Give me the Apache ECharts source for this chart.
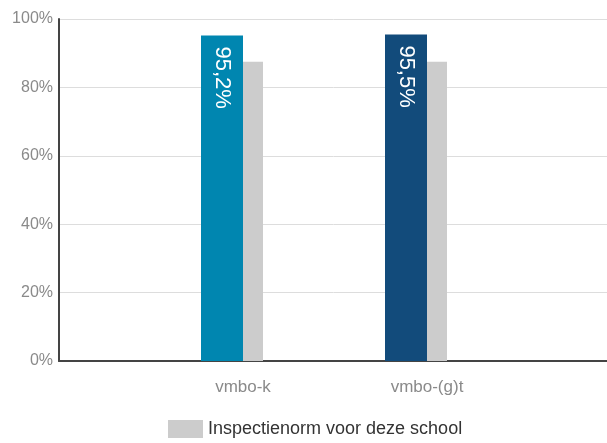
<!DOCTYPE html>
<html>
<head>
<meta charset="utf-8">
<script src="https://cdn.jsdelivr.net/npm/echarts@6/dist/echarts.min.js"></script>
<style>
  html, body { margin: 0; padding: 0; background: #fff; }
  #chart { width: 607px; height: 443px; }
</style>
</head>
<body>
<div id="chart"></div>
<script>
// empty slots at both ends keep the groups at the same spacing as the original
const categories = ['', 'vmbo-k', 'vmbo-(g)t', ''];
const results = ['-', 95.2, 95.5, '-'];
const resultColors = [null, '#0086b0', '#124b7b', null];
const norm = ['-', 87.5, 87.5, '-'];
const yTicks = [0, 20, 40, 60, 80, 100];
const normName = 'Inspectienorm voor deze school';

const chart = echarts.init(document.getElementById('chart'));
const fmt = (v) => String(v).replace('.', ',') + '%';

chart.setOption({
  animation: false,
  textStyle: { fontFamily: 'Liberation Sans, Arial, sans-serif' },
  grid: { left: 59, width: 552, top: 19, bottom: 82, containLabel: false, outerBoundsMode: 'none' },
  legend: {
    data: [normName],
    left: 163,
    bottom: 0,
    icon: 'rect',
    itemWidth: 35,
    itemHeight: 18,
    itemGap: 6,
    textStyle: { fontSize: 18, color: '#333' },
  },
  xAxis: {
    type: 'category',
    data: categories,
    boundaryGap: false,
    axisTick: { show: false },
    axisLine: { lineStyle: { color: '#444', width: 2 } },
    axisLabel: { fontSize: 17, color: '#8a8a8a', margin: 18 },
  },
  yAxis: {
    type: 'value',
    min: yTicks[0],
    max: yTicks[yTicks.length - 1],
    interval: 20,
    axisLine: { show: true, lineStyle: { color: '#444', width: 2 } },
    axisTick: { show: false },
    axisLabel: { formatter: '{value}%', fontSize: 16, color: '#8a8a8a', margin: 6 },
    splitLine: { lineStyle: { color: '#dddddd', width: 1 } },
  },
  series: [
    {
      name: 'Resultaat',
      type: 'bar',
      barWidth: 42,
      barGap: '0%',
      data: results.map((v, i) => (v === '-' ? v : { value: v, itemStyle: { color: resultColors[i] } })),
      label: {
        show: true,
        position: 'insideTop',
        rotate: -90,
        align: 'left',
        verticalAlign: 'middle',
        distance: 11,
        color: '#fff',
        fontSize: 22,
        formatter: (p) => fmt(p.value),
      },
    },
    {
      name: normName,
      type: 'bar',
      barWidth: 20,
      barGap: '0%',
      itemStyle: { color: '#cccccc' },
      data: norm,
    },
    {
      // spacer so the coloured bar sits left of the tick and the grey one right of it
      name: 'spacer',
      type: 'bar',
      barWidth: 22,
      barGap: '0%',
      silent: true,
      itemStyle: { color: 'transparent' },
      data: ['-', '-', '-', '-'],
    },
  ],
});
</script>
</body>
</html>
